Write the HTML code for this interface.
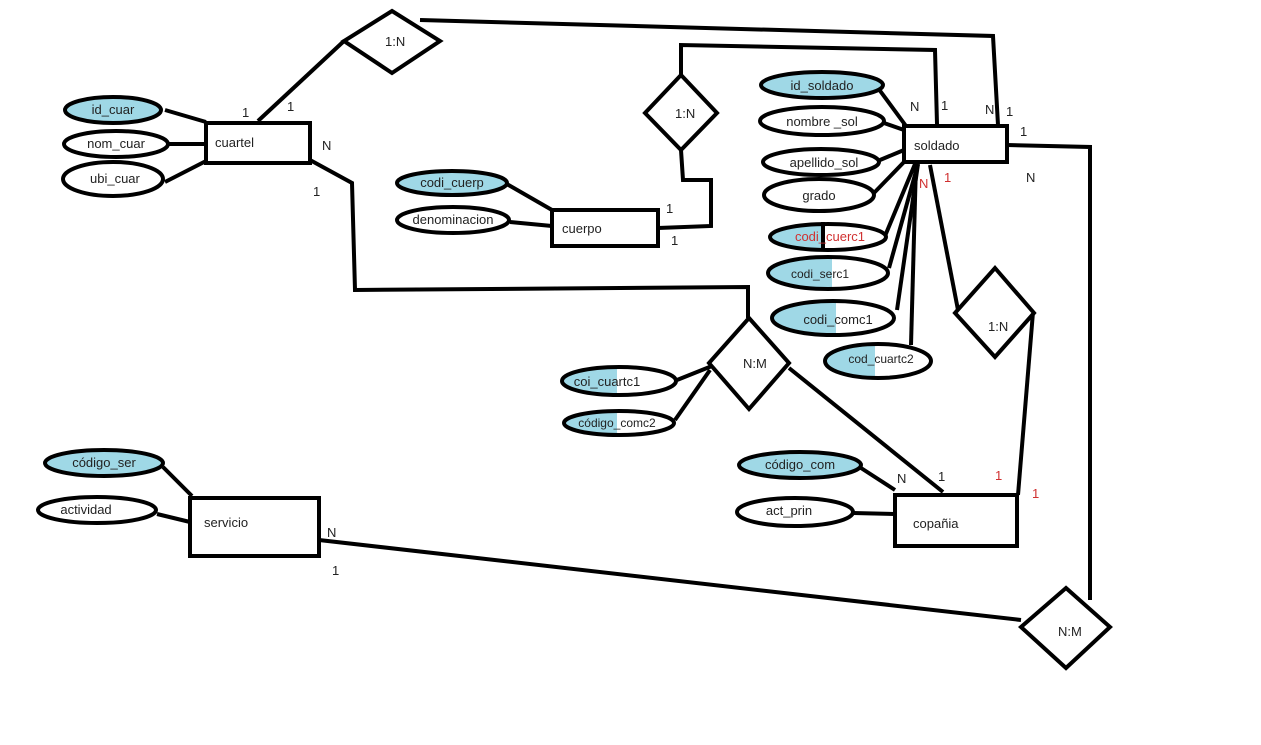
<!DOCTYPE html>
<html><head><meta charset="utf-8"><style>
html,body{margin:0;padding:0;background:#fff;}
svg{display:block;}
text{font-family:"Liberation Sans",sans-serif;font-size:13px;fill:#222;}
.r{fill:#d03030;}
</style></head><body>
<svg width="1261" height="745" viewBox="0 0 1261 745" xmlns="http://www.w3.org/2000/svg">
<defs>
<clipPath id="c1"><rect x="760" y="220" width="62" height="40"/></clipPath>
<clipPath id="c2"><rect x="760" y="255" width="72" height="40"/></clipPath>
<clipPath id="c3"><rect x="760" y="298" width="76" height="40"/></clipPath>
<clipPath id="c4"><rect x="820" y="340" width="55" height="40"/></clipPath>
<clipPath id="c5"><rect x="555" y="365" width="62" height="35"/></clipPath>
<clipPath id="c6"><rect x="555" y="408" width="62" height="35"/></clipPath>
</defs>
<g fill="none" stroke="#000" stroke-width="4" stroke-linejoin="miter">
<!-- connectors -->
<polyline points="258,121 344,41"/>
<polyline points="420,20 993,36 998,125"/>
<polyline points="310,160 352,183 355,290 748,287 748,318"/>
<polyline points="165,110 206,122"/>
<polyline points="165,144 206,144"/>
<polyline points="165,182 206,161"/>
<polyline points="505,183 552,210"/>
<polyline points="510,222 552,226"/>
<polyline points="681,75 681,45 935,50 937,124"/>
<polyline points="681,150 683,180 711,180 711,226 658,228"/>
<polyline points="878,88 906,126"/>
<polyline points="884,123 904,130"/>
<polyline points="880,160 904,150"/>
<polyline points="872,195 904,162"/>
<polyline points="885,236 915,164"/>
<polyline points="889,268 918,164"/>
<polyline points="897,310 918,164"/>
<polyline points="911,345 916,164"/>
<polyline points="823,222 823,250"/>
<polyline points="930,165 958,310"/>
<polyline points="1033,312 1018,495"/>
<polyline points="1007,145 1090,147 1090,600"/>
<polyline points="861,468 895,490"/>
<polyline points="853,513 895,514"/>
<polyline points="789,368 943,492"/>
<polyline points="677,380 712,366"/>
<polyline points="675,420 710,370"/>
<polyline points="163,467 192,496"/>
<polyline points="157,514 190,522"/>
<polyline points="319,540 1021,620"/>
<!-- diamonds -->
<polygon points="392,11 440,41 392,73 344,41" fill="#fff"/>
<polygon points="681,75 717,113 681,150 645,113" fill="#fff"/>
<polygon points="749,318 789,363 749,409 709,363" fill="#fff"/>
<polygon points="995,268 1034,313 995,357 955,313" fill="#fff"/>
<polygon points="1066,588 1110,627 1066,668 1021,627" fill="#fff"/>
<!-- rects -->
<rect x="206" y="123" width="104" height="40" fill="#fff"/>
<rect x="552" y="210" width="106" height="36" fill="#fff"/>
<rect x="904" y="126" width="103" height="36" fill="#fff"/>
<rect x="895" y="495" width="122" height="51" fill="#fff"/>
<rect x="190" y="498" width="129" height="58" fill="#fff"/>
<!-- ellipses -->
<ellipse cx="113" cy="110" rx="48" ry="13" fill="#9fd8e6"/>
<ellipse cx="116" cy="144" rx="52" ry="13" fill="#fff"/>
<ellipse cx="113" cy="179" rx="50" ry="17" fill="#fff"/>
<ellipse cx="452" cy="183" rx="55" ry="12" fill="#9fd8e6"/>
<ellipse cx="453" cy="220" rx="56" ry="13" fill="#fff"/>
<ellipse cx="822" cy="85" rx="61" ry="13" fill="#9fd8e6"/>
<ellipse cx="822" cy="121" rx="62" ry="14" fill="#fff"/>
<ellipse cx="821" cy="162" rx="58" ry="13" fill="#fff"/>
<ellipse cx="819" cy="195" rx="55" ry="16" fill="#fff"/>
<ellipse cx="800" cy="465" rx="61" ry="13" fill="#9fd8e6"/>
<ellipse cx="795" cy="512" rx="58" ry="14" fill="#fff"/>
<ellipse cx="104" cy="463" rx="59" ry="13" fill="#9fd8e6"/>
<ellipse cx="97" cy="510" rx="59" ry="13" fill="#fff"/>
</g>
<!-- partial ellipses -->
<g stroke="none" fill="#9fd8e6">
<ellipse cx="828" cy="237" rx="58" ry="13" clip-path="url(#c1)"/>
<ellipse cx="828" cy="273" rx="60" ry="16" clip-path="url(#c2)"/>
<ellipse cx="833" cy="318" rx="61" ry="17" clip-path="url(#c3)"/>
<ellipse cx="878" cy="361" rx="53" ry="17" clip-path="url(#c4)"/>
<ellipse cx="619" cy="381" rx="57" ry="14" clip-path="url(#c5)"/>
<ellipse cx="619" cy="423" rx="55" ry="12" clip-path="url(#c6)"/>
</g>
<g fill="none" stroke="#000" stroke-width="4">
<ellipse cx="828" cy="237" rx="58" ry="13"/>
<ellipse cx="828" cy="273" rx="60" ry="16"/>
<ellipse cx="833" cy="318" rx="61" ry="17"/>
<ellipse cx="878" cy="361" rx="53" ry="17"/>
<ellipse cx="619" cy="381" rx="57" ry="14"/>
<ellipse cx="619" cy="423" rx="55" ry="12"/>
<polyline points="823,222 823,250"/>
</g>
<!-- labels -->
<text x="385" y="46">1:N</text>
<text x="675" y="118">1:N</text>
<text x="743" y="368">N:M</text>
<text x="988" y="331">1:N</text>
<text x="1058" y="636">N:M</text>
<text x="215" y="147">cuartel</text>
<text x="562" y="233">cuerpo</text>
<text x="914" y="150">soldado</text>
<text x="913" y="528">copañia</text>
<text x="204" y="527">servicio</text>
<text x="113" y="114" text-anchor="middle">id_cuar</text>
<text x="116" y="148" text-anchor="middle">nom_cuar</text>
<text x="90" y="183">ubi_cuar</text>
<text x="452" y="187" text-anchor="middle">codi_cuerp</text>
<text x="453" y="224" text-anchor="middle">denominacion</text>
<text x="822" y="90" text-anchor="middle">id_soldado</text>
<text x="822" y="126" text-anchor="middle">nombre _sol</text>
<text x="824" y="167" text-anchor="middle">apellido_sol</text>
<text x="819" y="200" text-anchor="middle">grado</text>
<text x="830" y="241" text-anchor="middle" class="r">codi_cuerc1</text>
<text x="820" y="278" text-anchor="middle" style="font-size:12px">codi_serc1</text>
<text x="838" y="324" text-anchor="middle">codi_comc1</text>
<text x="881" y="363" text-anchor="middle" style="font-size:12px">cod_cuartc2</text>
<text x="607" y="386" text-anchor="middle">coi_cuartc1</text>
<text x="617" y="427" text-anchor="middle" style="font-size:12px">código_comc2</text>
<text x="800" y="469" text-anchor="middle">código_com</text>
<text x="789" y="515" text-anchor="middle">act_prin</text>
<text x="104" y="467" text-anchor="middle">código_ser</text>
<text x="86" y="514" text-anchor="middle">actividad</text>
<text x="242" y="117">1</text><text x="287" y="111">1</text>
<text x="322" y="150">N</text><text x="313" y="196">1</text>
<text x="666" y="213">1</text><text x="671" y="245">1</text>
<text x="910" y="111">N</text><text x="941" y="110">1</text>
<text x="985" y="114">N</text><text x="1006" y="116">1</text>
<text x="1020" y="136">1</text><text x="1026" y="182">N</text>
<text x="919" y="188" class="r">N</text><text x="944" y="182" class="r">1</text>
<text x="897" y="483">N</text><text x="938" y="481">1</text>
<text x="995" y="480" class="r">1</text><text x="1032" y="498" class="r">1</text>
<text x="327" y="537">N</text><text x="332" y="575">1</text>
</svg>
</body></html>
